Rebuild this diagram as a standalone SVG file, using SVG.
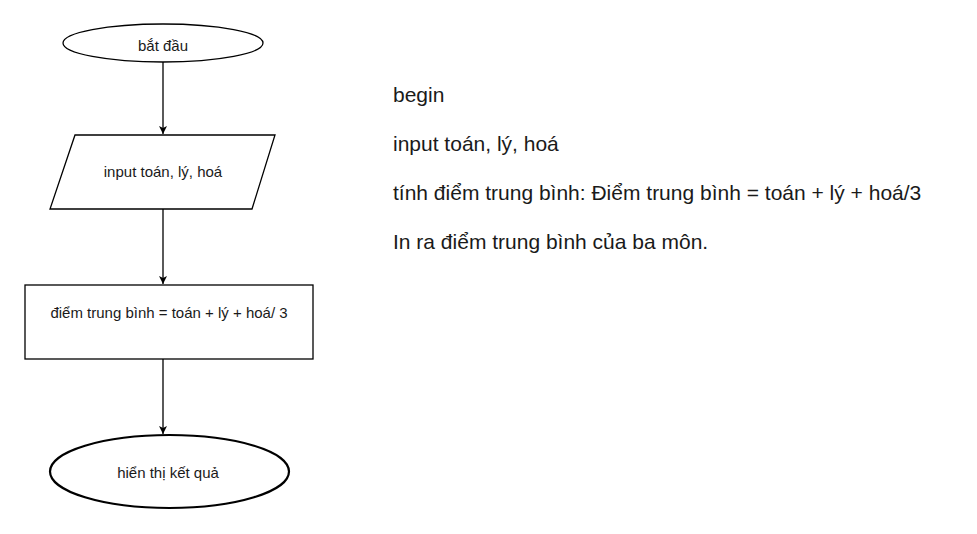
<svg xmlns="http://www.w3.org/2000/svg" width="977" height="534" viewBox="0 0 977 534">
<style>
.shape{fill:#ffffff;stroke:#000000;stroke-width:1.3}
.thick{stroke-width:2.2}
.lbl{font-family:"Liberation Sans",Arial,sans-serif;font-size:15px;fill:#1a1a1a;text-anchor:middle}
.note{font-family:"Liberation Sans",Arial,sans-serif;font-size:21px;fill:#1a1a1a}
.conn{fill:none;stroke:#000000;stroke-width:1.3}
</style>
<defs>
<marker id="arr" viewBox="0 0 10 10" refX="10" refY="5" markerWidth="8" markerHeight="8" markerUnits="userSpaceOnUse" orient="auto">
<path d="M0,0 L10,5 L0,10 L2.5,5 Z" fill="#000000"/>
</marker>
</defs>
<rect width="977" height="534" fill="#ffffff"/>
<g id="connectors">
<line class="conn" x1="163" y1="62" x2="163" y2="134" marker-end="url(#arr)"/>
<line class="conn" x1="163" y1="209" x2="163" y2="284" marker-end="url(#arr)"/>
<line class="conn" x1="163" y1="359" x2="163" y2="434" marker-end="url(#arr)"/>
</g>
<g id="start">
<ellipse class="shape" cx="163" cy="43" rx="100" ry="19"/>
<text class="lbl" x="163" y="51">bắt đầu</text>
</g>
<g id="input">
<polygon class="shape" points="75,135 275,135 252,209 50,209"/>
<text class="lbl" x="163" y="177">input toán, lý, hoá</text>
</g>
<g id="process">
<rect class="shape" x="25" y="285" width="288" height="74"/>
<text class="lbl" x="169" y="318">điểm trung bình = toán + lý + hoá/ 3</text>
</g>
<g id="end">
<ellipse class="shape thick" cx="169.5" cy="471.5" rx="119.5" ry="36.5"/>
<text class="lbl" x="168" y="478">hiển thị kết quả</text>
</g>
<g id="notes">
<text class="note" x="393" y="102">begin</text>
<text class="note" x="393" y="151">input toán, lý, hoá</text>
<text class="note" x="393" y="200">tính điểm trung bình: Điểm trung bình = toán + lý + hoá/3</text>
<text class="note" x="393" y="249">In ra điểm trung bình của ba môn.</text>
</g>
</svg>
